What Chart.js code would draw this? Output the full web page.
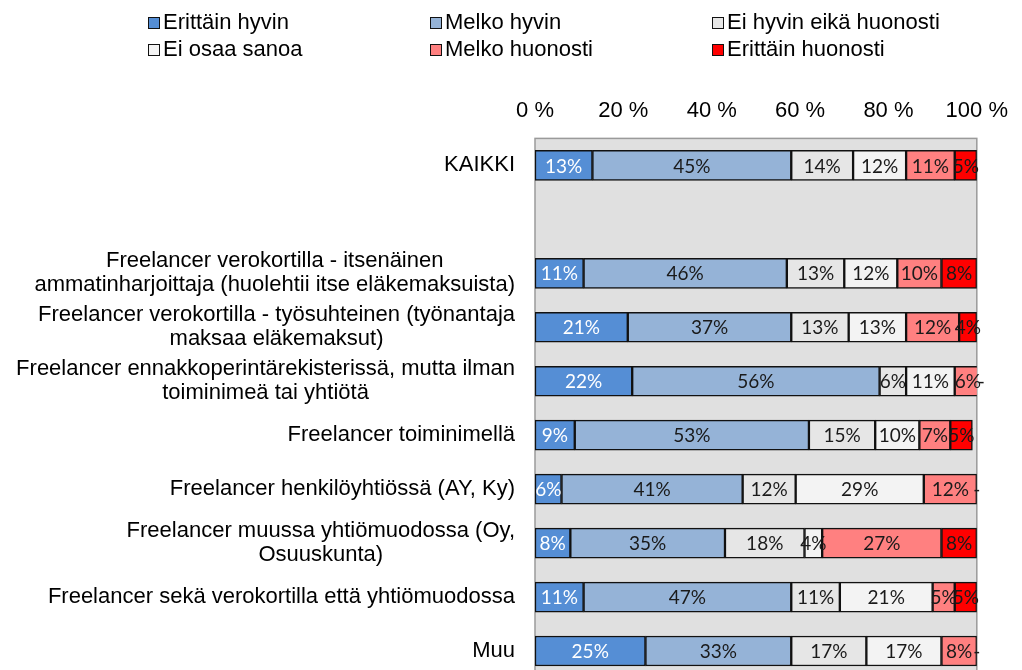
<!DOCTYPE html>
<html>
<head>
<meta charset="utf-8">
<script src="https://cdn.jsdelivr.net/npm/chart.js@4.4.1/dist/chart.umd.min.js"></script>
<style>
  html, body { margin: 0; padding: 0; background: #fff; overflow: hidden; }
  #wrap { position: relative; width: 1022px; height: 670px; overflow: hidden; }
  #chart { position: absolute; left: 0; top: 0; }
  .leg { position: absolute; font: 22px "Liberation Sans", Arial, sans-serif; color: #000; white-space: nowrap; line-height: 24px; }
  .leg i { display: inline-block; width: 10px; height: 10px; border: 1.5px solid #111; margin-right: 3px; vertical-align: 0px; }
</style>
</head>
<body>
<div id="wrap">
  <canvas id="chart" width="1022" height="680"></canvas>
  <div id="legend"></div>
</div>
<script>
// kategoriat (tyhjä rivi KAIKKI-rivin jälkeen)
const categories = [
  "KAIKKI",
  "",
  ["Freelancer verokortilla - itsenäinen", "ammatinharjoittaja (huolehtii itse eläkemaksuista)"],
  ["Freelancer verokortilla - työsuhteinen (työnantaja", "maksaa eläkemaksut)"],
  ["Freelancer ennakkoperintärekisterissä, mutta ilman", "toiminimeä tai yhtiötä"],
  "Freelancer toiminimellä",
  "Freelancer henkilöyhtiössä (AY, Ky)",
  ["Freelancer muussa yhtiömuodossa (Oy,", "Osuuskunta)"],
  "Freelancer sekä verokortilla että yhtiömuodossa",
  "Muu"
];

const seriesNames = ["Erittäin hyvin", "Melko hyvin", "Ei hyvin eikä huonosti", "Ei osaa sanoa", "Melko huonosti", "Erittäin huonosti"];

const erittainHyvin      = [13, null, 11, 21, 22,  9,  6,  8, 11, 25];
const melkoHyvin         = [45, null, 46, 37, 56, 53, 41, 35, 47, 33];
const eiHyvinEikaHuonosti = [14, null, 13, 13,  6, 15, 12, 18, 11, 17];
const eiOsaaSanoa        = [12, null, 12, 13, 11, 10, 29,  4, 21, 17];
const melkoHuonosti      = [11, null, 10, 12,  6,  7, 12, 27,  5,  8];
const erittainHuonosti   = [ 5, null,  8,  4,  0,  5,  0,  8,  5,  0];

const xTicks = [0, 20, 40, 60, 80, 100];

const colors = ["#558ED5", "#95B3D7", "#E6E6E6", "#F3F3F3", "#FF8080", "#FF0000"];
const labelColors = ["#ffffff", "#1a1a1a", "#1a1a1a", "#1a1a1a", "#1a1a1a", "#1a1a1a"];
const allSeries = [erittainHyvin, melkoHyvin, eiHyvinEikaHuonosti, eiOsaaSanoa, melkoHuonosti, erittainHuonosti];

// legenda kolmeen sarakkeeseen
const legendEl = document.getElementById("legend");
const legCols = [148, 430, 712];
const legRows = [10, 37];
seriesNames.forEach((name, i) => {
  const d = document.createElement("div");
  d.className = "leg";
  d.style.left = legCols[i % 3] + "px";
  d.style.top = legRows[Math.floor(i / 3)] + "px";
  d.innerHTML = '<i style="background:' + colors[i] + '"></i>' + name;
  legendEl.appendChild(d);
});

// harmaa tausta ja reunus kuva-alueelle
const plotBg = {
  id: "plotBg",
  beforeDatasetsDraw(chart) {
    const { ctx, chartArea: a } = chart;
    ctx.save();
    ctx.fillStyle = "#E0E0E0";
    ctx.fillRect(a.left, a.top, a.right - a.left, a.bottom - a.top);
    ctx.strokeStyle = "#9a9a9a";
    ctx.lineWidth = 1.5;
    ctx.strokeRect(a.left, a.top, a.right - a.left, a.bottom - a.top);
    ctx.restore();
  }
};

// kategorianimet: rivit keskitettyinä, lohko oikealle tasattuna
const catLabels = {
  id: "catLabels",
  afterDraw(chart) {
    const { ctx } = chart;
    const y = chart.scales.y;
    const right = chart.chartArea.left - 20;
    const lh = 24;
    ctx.save();
    ctx.font = '22px "Liberation Sans", Arial, sans-serif';
    ctx.fillStyle = "#000";
    ctx.textAlign = "center";
    ctx.textBaseline = "middle";
    categories.forEach((c, i) => {
      const lines = Array.isArray(c) ? c : [c];
      const w = Math.max(...lines.map(l => ctx.measureText(l).width));
      const cy = y.getPixelForValue(i);
      lines.forEach((l, j) => {
        ctx.fillText(l, right - w / 2, cy + (j - (lines.length - 1) / 2) * lh);
      });
    });
    ctx.restore();
  }
};

// arvot palkkien keskelle
const valueLabels = {
  id: "valueLabels",
  afterDatasetsDraw(chart) {
    const { ctx } = chart;
    ctx.save();
    ctx.font = '19px Lato, "Open Sans", sans-serif';
    ctx.textAlign = "center";
    ctx.textBaseline = "middle";
    chart.data.datasets.forEach((ds, di) => {
      const meta = chart.getDatasetMeta(di);
      meta.data.forEach((el, i) => {
        const v = ds.data[i];
        if (v === null || v === undefined) return;
        const p = el.getProps(["x", "y", "base"], true);
        ctx.fillStyle = labelColors[di];
        ctx.fillText(v === 0 ? "-" : v + "%", (p.x + p.base) / 2, p.y + 1);
      });
    });
    ctx.restore();
  }
};

new Chart(document.getElementById("chart"), {
  type: "bar",
  data: {
    labels: categories,
    datasets: seriesNames.map((name, i) => ({
      label: name,
      data: allSeries[i],
      backgroundColor: colors[i],
      borderColor: "#111",
      borderWidth: 1.5,
      borderSkipped: false,
      barThickness: 30
    }))
  },
  options: {
    indexAxis: "y",
    responsive: false,
    animation: false,
    layout: { padding: { left: 535, right: 39, top: 84, bottom: 2 } },
    scales: {
      x: {
        position: "top",
        stacked: true,
        min: 0,
        max: 100,
        afterBuildTicks(axis) { axis.ticks = xTicks.map(v => ({ value: v })); },
        ticks: {
          padding: 14,
          color: "#000",
          font: { family: '"Liberation Sans", Arial, sans-serif', size: 22 },
          callback: v => v + " %"
        },
        grid: { display: false, drawTicks: false },
        border: { display: false }
      },
      y: {
        stacked: true,
        display: false
      }
    },
    plugins: {
      legend: { display: false },
      tooltip: { enabled: false }
    }
  },
  plugins: [plotBg, catLabels, valueLabels]
});
</script>
</body>
</html>
